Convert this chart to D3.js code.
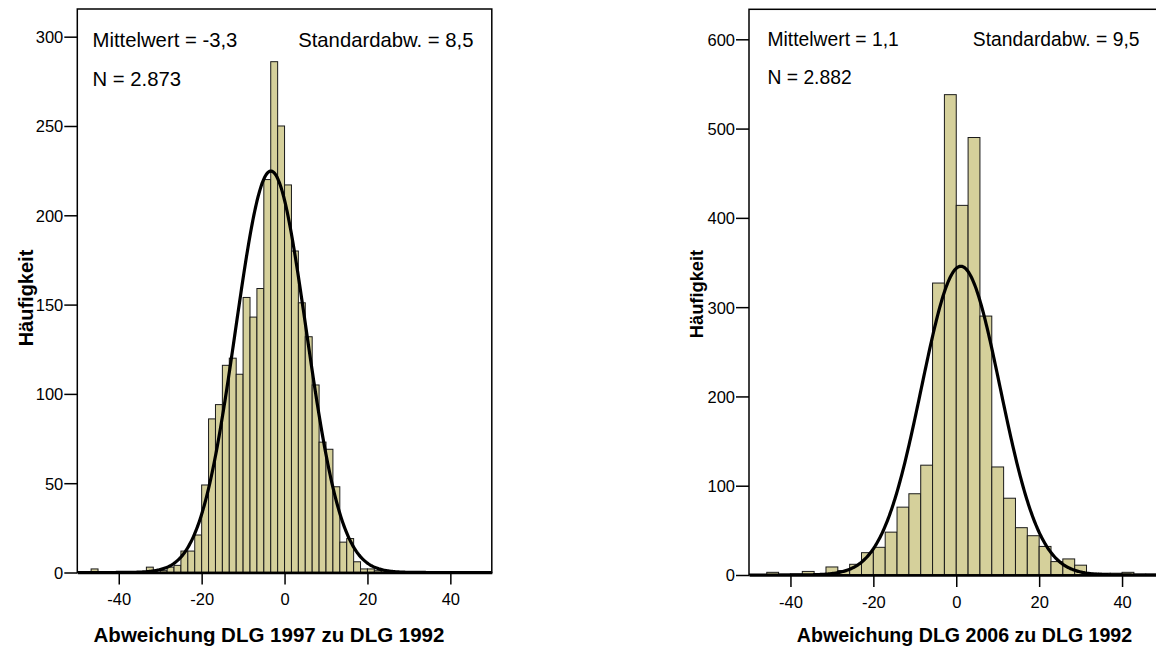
<!DOCTYPE html>
<html>
<head>
<meta charset="utf-8">
<script src="https://cdn.jsdelivr.net/npm/d3@7"></script>
<style>
  html, body { margin: 0; padding: 0; background: #fff; }
  svg { display: block; font-family: "Liberation Sans", Arial, sans-serif; }
</style>
</head>
<body>
<svg id="chart" width="1156" height="650"></svg>
<script>
// ---------- DATA ----------
// Left histogram: DLG 1997 vs 1992, bin width 5/3, first bin starts at -50
const leftBinWidth = 5 / 3;
const leftFirstEdge = -50;
const leftCounts = [
  0, 0, 2, 0, 0, 0, 0, 0, 0, 0,
  3, 0, 1, 3, 4, 12, 12, 21, 49, 86,
  94, 116, 120, 111, 154, 143, 159, 220, 286, 250,
  217, 180, 151, 132, 105, 73, 69, 48, 17, 19,
  6, 2, 2, 1, 1, 0, 0, 0, 0, 0
];
const leftStats = { mean: -3.3, sd: 8.5, n: 2873 };
const leftTexts = ["Mittelwert = -3,3", "Standardabw. = 8,5", "N = 2.873"];
const leftXTitle = "Abweichung DLG 1997 zu DLG 1992";
const leftYTicks = [0, 50, 100, 150, 200, 250, 300];

// Right histogram: DLG 2006 vs 1992, bin width 20/7, first bin starts at -17*20/7
const rightBinWidth = 20 / 7;
const rightFirstEdge = -17 * 20 / 7;
const rightCounts = [
  0, 3, 1, 1, 4, 1, 9, 5, 12, 25,
  31, 48, 76, 91, 123, 327, 538, 414, 490, 290,
  121, 86, 53, 44, 32, 15, 18, 11, 2, 2,
  2, 3, 1, 1
];
const rightStats = { mean: 1.1, sd: 9.5, n: 2882 };
const rightTexts = ["Mittelwert = 1,1", "Standardabw. = 9,5", "N = 2.882"];
const rightXTitle = "Abweichung DLG 2006 zu DLG 1992";
const rightYTicks = [0, 100, 200, 300, 400, 500, 600];

const xTicks = [-40, -20, 0, 20, 40];
const yTitle = "Häufigkeit";

// ---------- DRAW ----------
const svg = d3.select("#chart");
const barFill = "#d5d09b";

function panel(cfg) {
  const g = svg.append("g");
  const x = d3.scaleLinear().domain([-50, 50]).range([cfg.left, cfg.left + 414.5]);
  const y = d3.scaleLinear().domain([0, cfg.yMax]).range([cfg.bottom, cfg.top]);

  const clipId = "clip" + cfg.id;
  svg.append("clipPath").attr("id", clipId).append("rect")
    .attr("x", cfg.left).attr("y", cfg.top)
    .attr("width", 414.5).attr("height", cfg.bottom - cfg.top);

  const bins = cfg.counts.map((c, i) => ({
    x0: cfg.firstEdge + i * cfg.binWidth,
    x1: cfg.firstEdge + (i + 1) * cfg.binWidth,
    c
  })).filter(d => d.c > 0);

  const plot = g.append("g").attr("clip-path", `url(#${clipId})`);
  plot.selectAll("rect.bar").data(bins).join("rect")
    .attr("class", "bar")
    .attr("x", d => x(d.x0))
    .attr("width", d => x(d.x1) - x(d.x0))
    .attr("y", d => y(d.c))
    .attr("height", d => y(0) - y(d.c))
    .attr("fill", barFill)
    .attr("stroke", "#1a1a1a")
    .attr("stroke-width", 1);

  // normal curve from the stated mean, sd and N
  const { mean, sd, n } = cfg.stats;
  const pts = d3.range(-50, 50.01, 0.2).map(v => [v,
    n * cfg.binWidth * Math.exp(-0.5 * ((v - mean) / sd) ** 2) / (sd * Math.sqrt(2 * Math.PI))]);
  plot.append("path")
    .datum(pts)
    .attr("d", d3.line().x(d => x(d[0])).y(d => y(d[1])))
    .attr("fill", "none")
    .attr("stroke", "#000")
    .attr("stroke-width", 3.2);

  // frame
  g.append("rect")
    .attr("x", cfg.left).attr("y", cfg.top)
    .attr("width", 414.5).attr("height", cfg.bottom - cfg.top)
    .attr("fill", "none").attr("stroke", "#000").attr("stroke-width", 1.5);

  // y axis
  const ya = g.append("g").attr("transform", `translate(${cfg.left},0)`)
    .call(d3.axisLeft(y).tickValues(cfg.yTicks).tickSize(13).tickSizeOuter(0).tickFormat(d => String(d)));
  ya.select(".domain").remove();
  ya.selectAll(".tick line").attr("stroke", "#000").attr("stroke-width", 1.5);
  ya.selectAll(".tick text").attr("font-size", 16.5).attr("fill", "#000")
    .attr("x", -14).attr("dy", "0.36em")
    .attr("font-family", "Liberation Sans, Arial, sans-serif");

  // x axis
  const xa = g.append("g").attr("transform", `translate(0,${cfg.bottom})`)
    .call(d3.axisBottom(x).tickValues(xTicks).tickSize(12).tickSizeOuter(0).tickFormat(d => String(d)));
  xa.select(".domain").attr("stroke", "#000").attr("stroke-width", 2.5);
  xa.selectAll(".tick line").attr("stroke", "#000").attr("stroke-width", 1.5);
  xa.selectAll(".tick text").attr("font-size", 16.5).attr("fill", "#000")
    .attr("y", 21).attr("dy", "0.71em")
    .attr("font-family", "Liberation Sans, Arial, sans-serif");

  // stats texts
  g.append("text").attr("x", cfg.tx1).attr("y", cfg.ty1).attr("font-size", cfg.fs)
    .text(cfg.texts[0]);
  g.append("text").attr("x", cfg.tx2).attr("y", cfg.ty1).attr("font-size", cfg.fs)
    .attr("text-anchor", "end").text(cfg.texts[1]);
  g.append("text").attr("x", cfg.tx1).attr("y", cfg.ty2).attr("font-size", cfg.fs)
    .text(cfg.texts[2]);

  // titles
  g.append("text").attr("x", cfg.xtX).attr("y", 642).attr("text-anchor", "middle")
    .attr("font-size", cfg.xtFs).attr("font-weight", "bold").text(cfg.xTitle);
  g.append("text").attr("transform", `translate(${cfg.ytX},${cfg.ytY}) rotate(-90)`)
    .attr("text-anchor", "middle").attr("font-size", cfg.ytFs).attr("font-weight", "bold")
    .text(yTitle);
}

panel({
  id: "L", left: 77.3, top: 9, bottom: 572.5, yMax: 315.5,
  counts: leftCounts, firstEdge: leftFirstEdge, binWidth: leftBinWidth,
  stats: leftStats, texts: leftTexts, xTitle: leftXTitle, yTicks: leftYTicks,
  tx1: 92.5, tx2: 473.5, ty1: 46.5, ty2: 86, fs: 20.3,
  xtX: 269, xtFs: 20.5, ytX: 33, ytY: 298, ytFs: 20
});

panel({
  id: "R", left: 749, top: 9.3, bottom: 575, yMax: 633.6,
  counts: rightCounts, firstEdge: rightFirstEdge, binWidth: rightBinWidth,
  stats: rightStats, texts: rightTexts, xTitle: rightXTitle, yTicks: rightYTicks,
  tx1: 767.5, tx2: 1139.5, ty1: 46, ty2: 84, fs: 19.3,
  xtX: 964.5, xtFs: 19.6, ytX: 703, ytY: 294, ytFs: 18.3
});
</script>
</body>
</html>
